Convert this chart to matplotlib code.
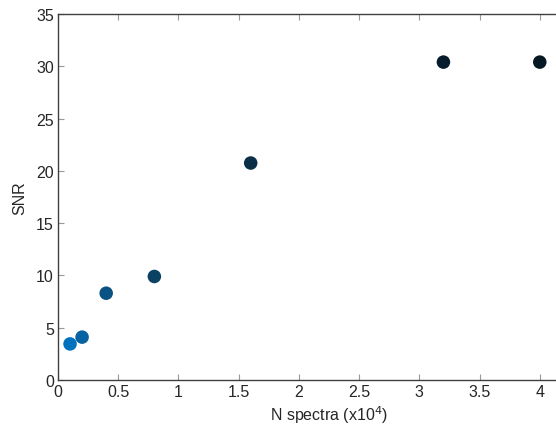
import matplotlib
matplotlib.use("Agg")
import matplotlib.pyplot as plt

plt.rcParams['font.family'] = ['Liberation Sans', 'DejaVu Sans']

n_spectra = [0.1, 0.2, 0.4, 0.8, 1.6, 3.2, 4.0]
snr = [3.45, 4.1, 8.3, 9.9, 20.75, 30.4, 30.4]
colors = ['#0072BD', '#0862A2', '#0A5283', '#0A4264', '#0A2F47', '#061C2C', '#061824']

xticks = [0, 0.5, 1, 1.5, 2, 2.5, 3, 3.5, 4]
xticklabels = ['0', '0.5', '1', '1.5', '2', '2.5', '3', '3.5', '4']
yticks = [0, 5, 10, 15, 20, 25, 30, 35]

fig = plt.figure(figsize=(5.56, 4.27), dpi=100)
ax = fig.add_axes([58/556, 46/427, 542/556, 366/427])
ax.scatter(n_spectra, snr, s=95, c=colors, edgecolors='none', zorder=3)
ax.set_xlim(0, 4.5)
ax.set_ylim(0, 35)
ax.set_xticks(xticks)
ax.set_xticklabels(xticklabels)
ax.set_yticks(yticks)
ax.tick_params(direction='in', length=4, width=0.8, color='#999999',
               labelsize=11.5, labelcolor='#262626', pad=3, top=True)
for s in ax.spines.values():
    s.set_color('#404040')
    s.set_linewidth(1.0)
ax.set_xlabel('N spectra (x10$^4$)', fontsize=11.5, color='#262626', labelpad=3)
ax.set_ylabel('SNR', fontsize=11.5, color='#262626', labelpad=6)
fig.savefig('out.png', dpi=100)
